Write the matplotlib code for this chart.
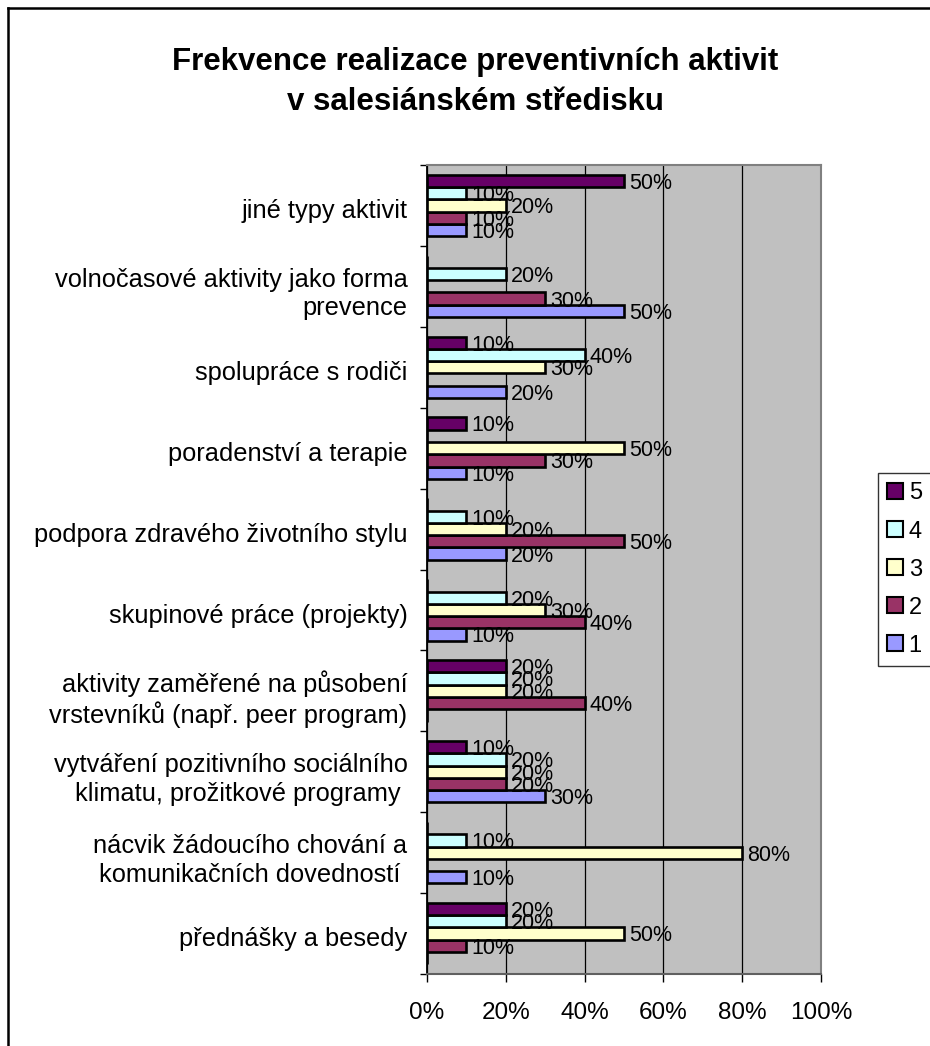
import numpy as np
import matplotlib.pyplot as plt
from matplotlib.patches import Patch
from matplotlib.lines import Line2D

plt.rcParams["font.family"] = ["Liberation Sans", "DejaVu Sans"]

# kategorie shora dolu, jak jsou v grafu
kategorie = [
    "jiné typy aktivit",
    "volnočasové aktivity jako forma\nprevence",
    "spolupráce s rodiči",
    "poradenství a terapie",
    "podpora zdravého životního stylu",
    "skupinové práce (projekty)",
    "aktivity zaměřené na působení\nvrstevníků (např. peer program)",
    "vytváření pozitivního sociálního\nklimatu, prožitkové programy ",
    "nácvik žádoucího chování a\nkomunikačních dovedností ",
    "přednášky a besedy",
]

# hodnoty v procentech pro jednotlive stupne frekvence
s5 = [50, 0, 10, 10, 0, 0, 20, 10, 0, 20]
s4 = [10, 20, 40, 0, 10, 20, 20, 20, 10, 20]
s3 = [20, 0, 30, 50, 20, 30, 20, 20, 80, 50]
s2 = [10, 30, 0, 30, 50, 40, 40, 20, 0, 10]
s1 = [10, 50, 20, 10, 20, 10, 0, 30, 10, 0]

serie = ["1", "2", "3", "4", "5"]
hodnoty = [s1, s2, s3, s4, s5]
barvy = ["#9999FF", "#993366", "#FFFFCC", "#CCFFFF", "#660066"]

x_ticks = [0, 20, 40, 60, 80, 100]

fig = plt.figure(figsize=(9.3, 10.46), dpi=100)
ax = fig.add_axes([427 / 930, 1 - 974 / 1046, 394 / 930, 809 / 1046])
ax.set_facecolor("#C0C0C0")

n = len(kategorie)
y = np.arange(n)[::-1]  # prvni kategorie nahore
h = 0.152

for i, (nazev, vals, c) in enumerate(zip(serie, hodnoty, barvy)):
    pos = y + (i - 2) * h
    ax.barh(pos, vals, height=h, color=c, edgecolor="black", linewidth=1.9, zorder=3)
    for p, v in zip(pos, vals):
        if v > 0:
            ax.text(v + 1.3, p - 0.03, f"{v}%", fontsize=15.5, va="center", ha="left", zorder=4)

ax.set_xlim(0, 100)
ax.set_ylim(-0.5, n - 0.5)
ax.set_xticks(x_ticks)
ax.set_xticklabels([f"{t}%" for t in x_ticks], fontsize=17.5)
ax.tick_params(axis="x", length=6, width=1, pad=14, color="black")
ax.xaxis.grid(True, color="black", linewidth=0.9, zorder=1)

ax.set_yticks(y - 0.04)
ax.set_yticklabels(kategorie, fontsize=18.3, linespacing=1.22)
ax.tick_params(axis="y", length=0, pad=14)
ax.set_yticks(np.arange(-0.5, n, 1.0), minor=True)
ax.tick_params(axis="y", which="minor", length=5, width=1, color="black")

for s in ["top", "right"]:
    ax.spines[s].set_color("#808080")
    ax.spines[s].set_linewidth(1.5)
ax.spines["left"].set_color("black")
ax.spines["bottom"].set_color("#606060")
ax.spines["left"].set_linewidth(1.3)
ax.spines["bottom"].set_linewidth(1.5)

fig.text(475 / 930, 1 - 82 / 1046,
         "Frekvence realizace preventivních aktivit\nv salesiánském středisku",
         ha="center", va="center", fontsize=22.5, fontweight="bold", linespacing=1.45)

# legenda: 5 nahore, 1 dole
handles = [Patch(facecolor=c, edgecolor="black", linewidth=1.5) for c in barvy][::-1]
leg = fig.legend(handles, serie[::-1], loc="upper left",
                 bbox_to_anchor=(878 / 930, 1 - 473 / 1046), frameon=True,
                 fontsize=17, handlelength=0.65, handleheight=0.65, handletextpad=0.25,
                 labelspacing=0.68, borderpad=0.4, fancybox=False, borderaxespad=0)
leg.get_frame().set_edgecolor("black")
leg.get_frame().set_linewidth(1)

# ramecek celeho grafu
fig.add_artist(Line2D([8 / 930, 8 / 930], [0, 1 - 8 / 1046], color="black", linewidth=1.8))
fig.add_artist(Line2D([8 / 930, 1], [1 - 8 / 1046, 1 - 8 / 1046], color="black", linewidth=1.8))

fig.savefig("out.png", dpi=100)
